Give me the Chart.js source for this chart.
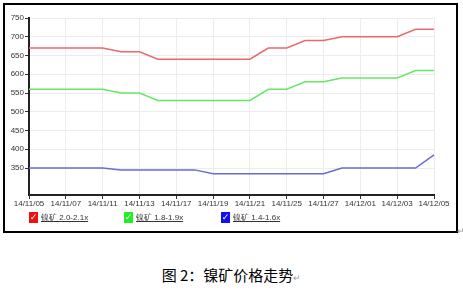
<!DOCTYPE html>
<html>
<head>
<meta charset="utf-8">
<script src="https://cdn.jsdelivr.net/npm/chart.js@4"></script>
<style>
  body { margin: 0; background: #fff; width: 463px; height: 293px; position: relative; overflow: hidden; }
  #box { position: absolute; left: 3px; top: 3px; width: 451px; height: 226px; border: 2px solid #000; pointer-events: none; }
  #chart { position: absolute; left: 0; top: 0; }
  .legend { position: absolute; top: 212px; font: 8px "Liberation Sans", sans-serif; color: #333; text-decoration: underline; white-space: nowrap; }
  .legend .chk { display: inline-block; width: 9px; height: 11px; color: #fff; font: bold 9px "DejaVu Sans", sans-serif; line-height: 11px; text-align: center; vertical-align: middle; margin-right: 3px; text-decoration: none; }
  .legend span.t { vertical-align: middle; }
  #caption { position: absolute; top: 264px; left: 0; width: 463px; text-align: center; font: 15px "Noto Sans CJK SC", sans-serif; color: #000; }
  #caption small, #mark { color: #999; font-size: 9px; }
  #mark { position: absolute; left: 457px; top: 226px; }
</style>
</head>
<body>
<canvas id="chart" width="463" height="232"></canvas>
<div id="box"></div>
<div id="legend"></div>
<div id="mark">↵</div>
<div id="caption">图 2：镍矿价格走势<small>↵</small></div>
<script>
// trading days, labels shown every second day
var dates = ['14/11/05', '14/11/06', '14/11/07', '14/11/10', '14/11/11', '14/11/12', '14/11/13', '14/11/14',
    '14/11/17', '14/11/18', '14/11/19', '14/11/20', '14/11/21', '14/11/24', '14/11/25', '14/11/26',
    '14/11/27', '14/11/28', '14/12/01', '14/12/02', '14/12/03', '14/12/04', '14/12/05'];
var seriesNames = ['镍矿 2.0-2.1x', '镍矿 1.8-1.9x', '镍矿 1.4-1.6x'];
var nickel_20 = [670, 670, 670, 670, 670, 660, 660, 640, 640, 640, 640, 640, 640, 670, 670, 690, 690, 700, 700, 700, 700, 720, 720];
var nickel_18 = [560, 560, 560, 560, 560, 550, 550, 530, 530, 530, 530, 530, 530, 560, 560, 580, 580, 590, 590, 590, 590, 610, 610];
var nickel_14 = [350, 350, 350, 350, 350, 345, 345, 345, 345, 345, 335, 335, 335, 335, 335, 335, 335, 350, 350, 350, 350, 350, 385];
var yTicks = [350, 400, 450, 500, 550, 600, 650, 700, 750];

var colors = ['#e86a6a', '#66e866', '#6a6ad8'];
var legendPos = [29, 124, 221];

var tickFont = { family: 'Liberation Sans', size: 8 };

var ctx = document.getElementById('chart').getContext('2d');
var chart = new Chart(ctx, {
    type: 'line',
    data: {
        labels: dates,
        datasets: [nickel_20, nickel_18, nickel_14].map(function (values, i) {
            return {
                label: seriesNames[i],
                data: values,
                borderColor: colors[i],
                borderWidth: 1.5,
                pointRadius: 0,
                tension: 0,
                fill: false
            };
        })
    },
    options: {
        responsive: false,
        animation: false,
        layout: { padding: { left: 0, top: 18, right: 29, bottom: 23 } },
        plugins: { legend: { display: false }, tooltip: { enabled: false } },
        scales: {
            x: {
                grid: { color: '#ececec', tickColor: '#333', tickLength: 4, lineWidth: 1 },
                border: { color: '#222', width: 2 },
                ticks: { autoSkip: false, maxRotation: 0, color: '#333', font: tickFont, padding: 0 },
                afterBuildTicks: function (scale) {
                    scale.ticks = scale.ticks.filter(function (t) { return t.value % 2 === 0; });
                },
                afterFit: function (scale) { scale.height = 14; }
            },
            y: {
                min: 278,
                max: 750,
                grid: { color: '#ececec', tickColor: '#333', tickLength: 4, lineWidth: 1 },
                border: { color: '#222', width: 2 },
                ticks: { color: '#333', font: tickFont, padding: 1 },
                afterBuildTicks: function (scale) {
                    scale.ticks = yTicks.map(function (v) { return { value: v }; });
                },
                afterFit: function (scale) { scale.width = 29; }
            }
        }
    }
});

var legend = document.getElementById('legend');
seriesNames.forEach(function (name, i) {
    var item = document.createElement('div');
    item.className = 'legend';
    item.style.left = legendPos[i] + 'px';
    item.innerHTML = '<span class="chk" style="background:' + ['#ee1111', '#22ee22', '#1111ee'][i] + '">✓</span><span class="t">' + name + '</span>';
    legend.appendChild(item);
});
</script>
</body>
</html>
